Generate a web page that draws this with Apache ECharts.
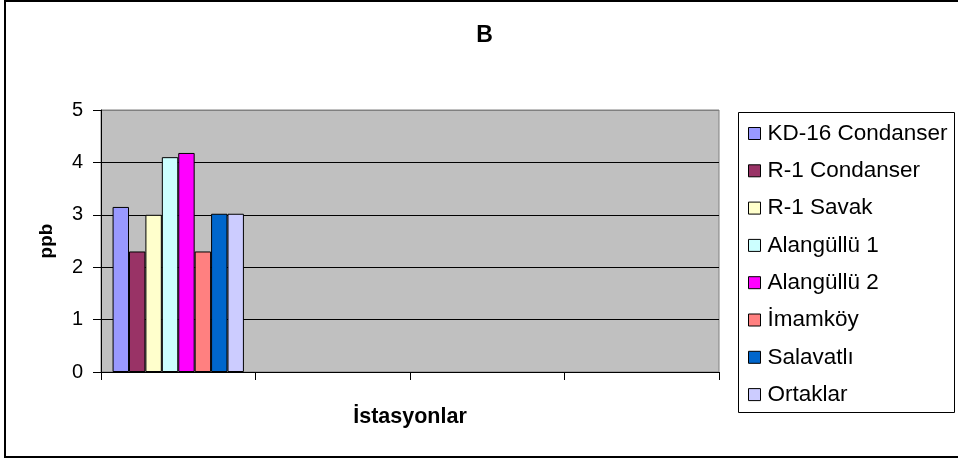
<!DOCTYPE html>
<html>
<head>
<meta charset="utf-8">
<script src="https://cdn.jsdelivr.net/npm/echarts@6/dist/echarts.min.js"></script>
<style>
  html, body { margin: 0; padding: 0; background: #ffffff; }
  #chart { width: 958px; height: 459px; }
</style>
</head>
<body>
<div id="chart"></div>
<script>
// Measurement stations (x-axis groups); only the first group carries values
const categories = ['', '', '', ''];

// Series names and colours
const seriesNames = [
  'KD-16 Condanser', 'R-1 Condanser', 'R-1 Savak', 'Alangüllü 1',
  'Alangüllü 2', 'İmamköy', 'Salavatlı', 'Ortaklar'
];
const seriesColors = [
  '#9999FF', '#993366', '#FFFFCC', '#CCFFFF',
  '#FF00FF', '#FF8080', '#0066CC', '#CCCCFF'
];

// Concentrations in ppb
const kd16Condanser = [3.15, null, null, null];
const r1Condanser   = [2.3, null, null, null];
const r1Savak       = [3.0, null, null, null];
const alangullu1    = [4.1, null, null, null];
const alangullu2    = [4.18, null, null, null];
const imamkoy       = [2.3, null, null, null];
const salavatli     = [3.02, null, null, null];
const ortaklar      = [3.02, null, null, null];

const seriesValues = [kd16Condanser, r1Condanser, r1Savak, alangullu1,
                      alangullu2, imamkoy, salavatli, ortaklar];

const yTicks = [0, 1, 2, 3, 4, 5];

const FONT = '"Liberation Sans", Arial, sans-serif';

const chart = echarts.init(document.getElementById('chart'), null, { renderer: 'canvas' });

chart.setOption({
  animation: false,
  backgroundColor: '#ffffff',
  textStyle: { fontFamily: FONT },
  title: {
    text: 'B',
    left: 484.5,
    top: 24,
    padding: 0,
    textAlign: 'center',
    textStyle: { fontFamily: FONT, fontSize: 23, fontWeight: 'bold', color: '#000', lineHeight: 23 }
  },
  graphic: [
    {
      type: 'rect',
      shape: { x: 5, y: 1, width: 1000, height: 456 },
      style: { fill: null, stroke: '#000', lineWidth: 2 },
      silent: true,
      z: 0
    },
    {
      type: 'rect',
      shape: { x: 738.5, y: 112.5, width: 216, height: 300 },
      style: { fill: '#fff', stroke: '#000', lineWidth: 1 },
      silent: true,
      z: 0
    }
  ],
  legend: {
    orient: 'vertical',
    left: 748,
    top: 122,
    padding: 0,
    itemGap: 14.3,
    itemWidth: 12,
    itemHeight: 12,
    icon: 'rect',
    itemStyle: { borderColor: '#000', borderWidth: 1 },
    textStyle: { fontFamily: FONT, fontSize: 22.5, color: '#000', padding: [0, 0, 0, 2] },
    data: seriesNames
  },
  grid: {
    left: 101,
    right: 239,
    top: 110,
    bottom: 87,
    show: true,
    backgroundColor: '#C0C0C0',
    borderColor: '#808080',
    borderWidth: 1
  },
  xAxis: {
    type: 'category',
    data: categories,
    name: 'İstasyonlar',
    nameLocation: 'middle',
    nameGap: 34,
    nameTextStyle: { fontFamily: FONT, fontSize: 21.5, fontWeight: 'bold', color: '#000' },
    axisLine: { lineStyle: { color: '#000', width: 1 } },
    axisTick: { show: true, length: 8, lineStyle: { color: '#000' }, alignWithLabel: false },
    axisLabel: { show: false },
    splitLine: { show: false }
  },
  yAxis: {
    type: 'value',
    min: yTicks[0],
    max: yTicks[yTicks.length - 1],
    interval: 1,
    name: 'ppb',
    nameLocation: 'middle',
    nameGap: 45,
    nameRotate: 90,
    nameTextStyle: { fontFamily: FONT, fontSize: 19, fontWeight: 'bold', color: '#000' },
    axisLine: { show: true, lineStyle: { color: '#000', width: 1 } },
    axisTick: { show: true, length: 8, lineStyle: { color: '#000' } },
    axisLabel: { fontFamily: FONT, fontSize: 20, color: '#000', margin: 18 },
    splitLine: { show: true, lineStyle: { color: ['#000', '#000', '#000', '#000', '#000', '#808080'], width: 1 } }
  },
  series: seriesNames.map((name, i) => ({
    name: name,
    type: 'bar',
    data: seriesValues[i],
    barGap: '0%',
    barCategoryGap: '15%',
    itemStyle: { color: seriesColors[i], borderColor: '#000', borderWidth: 1 }
  }))
});
</script>
</body>
</html>
